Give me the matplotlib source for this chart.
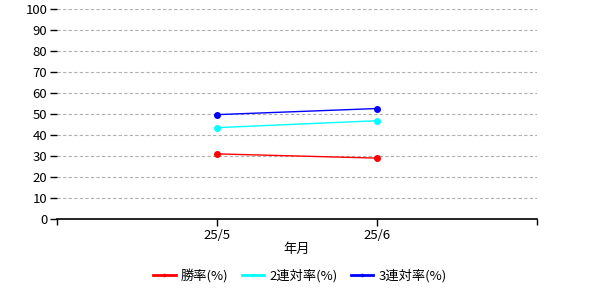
import numpy as np
import matplotlib
matplotlib.use("Agg")
import matplotlib.pyplot as plt

plt.rcParams['font.family'] = ['Noto Sans CJK JP', 'DejaVu Sans']

months = ["25/5", "25/6"]
win_rate = [31.0, 29.0]
quinella_rate = [43.5, 46.8]
trio_rate = [49.7, 52.6]

series_names = ["勝率(%)", "2連対率(%)", "3連対率(%)"]
series_colors = ["red", "cyan", "blue"]

fig = plt.figure(figsize=(6, 3), dpi=100)
ax = fig.add_axes([0.095, 0.27, 0.80, 0.70])

x = np.arange(1, len(months) + 1)
for vals, name, col in zip([win_rate, quinella_rate, trio_rate], series_names, series_colors):
    ax.plot(x, vals, color=col, lw=1.0, marker='o', ms=4, label=name)

ax.set_xlim(0, len(months) + 1)
ax.set_ylim(0, 100)
ax.set_yticks(np.arange(0, 101, 10))
ax.set_xticks(x)
ax.set_xticklabels(months)
ax.tick_params(axis='both', labelsize=9.5, length=5, width=1, pad=2)
ax.yaxis.grid(True, color='#b0b0b0', ls=(0, (3, 2)), lw=0.8)
ax.set_axisbelow(True)

for s in ['top', 'right', 'left']:
    ax.spines[s].set_visible(False)
ax.spines['bottom'].set_linewidth(1.2)

# end ticks on the x axis
ax.set_xticks([0, len(months) + 1], minor=True)
ax.tick_params(axis='x', which='minor', length=4, width=1)

ax.set_xlabel("年月", fontsize=9.5, labelpad=1)

leg = fig.legend(loc='center', bbox_to_anchor=(0.5, 0.08), ncol=3, frameon=False,
                 fontsize=9.5, handlelength=1.7, handletextpad=0.4, markerscale=0.4,
                 columnspacing=1.0)
for h in leg.get_lines():
    h.set_linewidth(2)

fig.savefig("out.png", dpi=100)
